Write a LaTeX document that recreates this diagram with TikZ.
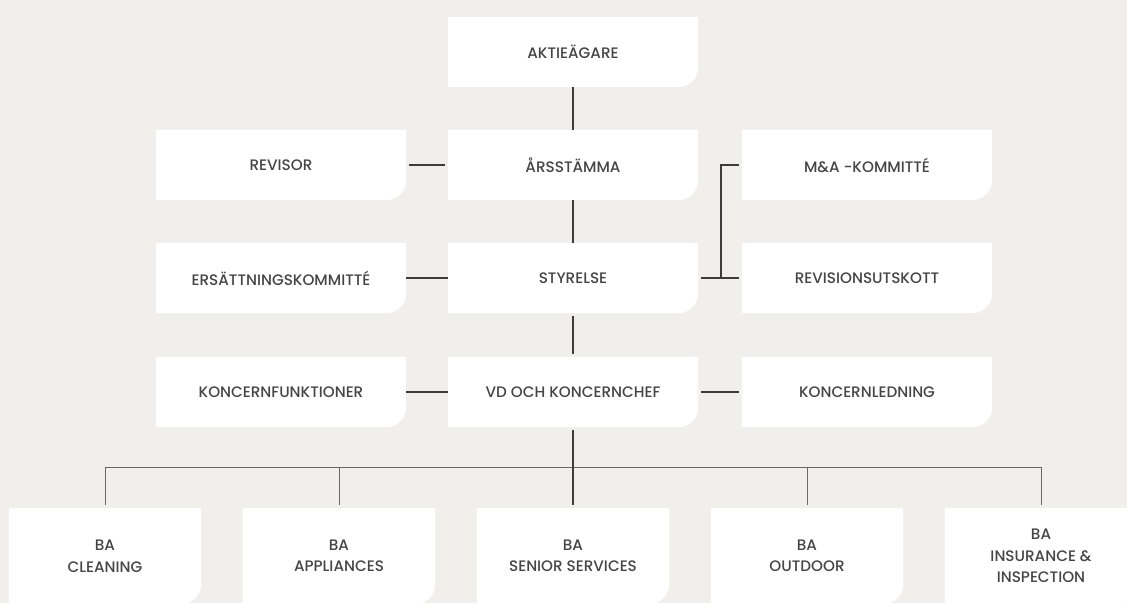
\documentclass[tikz,border=0pt]{standalone}
\usepackage{fontspec}
\setmainfont{Poppins}[UprightFont=* Medium, BoldFont=* SemiBold]
\usetikzlibrary{backgrounds}
\definecolor{paper}{HTML}{F0EFEC}
\definecolor{ink}{HTML}{454545}
\definecolor{wire}{HTML}{3C3C3C}
\definecolor{buswire}{HTML}{686868}
\begin{document}
\begin{tikzpicture}[x=1pt, y=-1pt]
        \tikzstyle{every node}=[rectangle, inner sep=0pt, font=\fontsize{15.2}{21.5}\selectfont, text=ink, align=center]
        \tikzstyle{unit}=[minimum width=250pt, minimum height=70pt]
        \tikzstyle{ba}=[minimum width=192pt, minimum height=96pt]
        \tikzstyle{edge}=[wire, line width=1.2pt, shorten >=3pt, shorten <=3pt]

        \useasboundingbox (0,0) rectangle (1127,603);

        \node[unit] (akt) at (573,52)  {AKTIEÄGARE};

        \node[unit] (rvs) at (281,165) {REVISOR};
        \node[unit] (ars) at (573,165) {ÅRSSTÄMMA};
        \node[unit] (mna) at (867,165) {M\&A -KOMMITTÉ};

        \node[unit] (ers) at (281,278) {ERSÄTTNINGSKOMMITTÉ};
        \node[unit] (sty) at (573,278) {STYRELSE};
        \node[unit] (rut) at (867,278) {REVISIONSUTSKOTT};

        \node[unit] (kfn) at (281,392) {KONCERNFUNKTIONER};
        \node[unit] (vd)  at (573,392) {VD OCH KONCERNCHEF};
        \node[unit] (kld) at (867,392) {KONCERNLEDNING};

        \node[ba] (cln) at (105,556)  {BA\\CLEANING};
        \node[ba] (app) at (339,556)  {BA\\APPLIANCES};
        \node[ba] (sen) at (573,556)  {BA\\SENIOR SERVICES};
        \node[ba] (out) at (807,556)  {BA\\OUTDOOR};
        \node[ba] (ins) at (1041,556) {BA\\INSURANCE \&\\INSPECTION};

        % boxes: white, only the lower right corner rounded
        \begin{pgfonlayer}{background}
            \fill[paper] (0,0) rectangle (1127,603);
            \foreach \n in {akt,rvs,ars,mna,ers,sty,rut,kfn,vd,kld,cln,app,sen,out,ins}
                \fill[white] (\n.north west) -- (\n.north east) -- ([yshift=20pt]\n.south east)
                    arc[start angle=0, end angle=-90, radius=20pt] -- (\n.south west) -- cycle;
        \end{pgfonlayer}

        \draw[edge] (akt) -- (ars) -- (sty) -- (vd);
        \draw[edge] (rvs) -- (ars);
        \draw[edge] (ers) -- (sty) -- (rut);
        \draw[edge] (kfn) -- (vd) -- (kld);

        \coordinate (brk) at (721,165);
        \draw[edge, shorten >=0pt] (mna) -- (brk) -- (brk |- sty.east);

        % business areas
        \coordinate (bus) at (573,467);
        \foreach \n in {cln,app,out,ins}
            \draw[edge, buswire, line width=1pt, shorten <=0pt] (bus) -| (\n.north);
        \draw[edge] (vd) -- (sen);
    \end{tikzpicture}
\end{document}
